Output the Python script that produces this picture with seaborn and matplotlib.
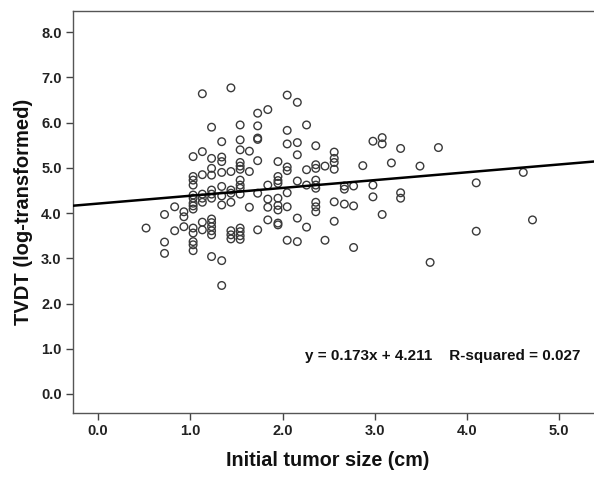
import matplotlib
matplotlib.use("Agg")
import matplotlib.pyplot as plt
from matplotlib.ticker import FormatStrFormatter, FixedLocator
import seaborn as sns
import pandas as pd
import numpy as np

# ---- data ----
col_x = [0.52, 0.72, 0.83, 0.93, 1.03, 1.13, 1.23, 1.34, 1.44, 1.54, 1.64, 1.73,
         1.84, 1.95, 2.05, 2.16, 2.26, 2.36, 2.46, 2.56, 2.67, 2.77, 2.87, 2.98,
         3.08, 3.18, 3.28, 3.49, 3.60, 3.69, 4.10, 4.61, 4.71]
col_y = [
    [3.67],
    [3.97, 3.36, 3.11],
    [4.14, 3.61],
    [4.03, 3.92, 3.70],
    [5.25, 4.81, 4.73, 4.62, 4.40, 4.33, 4.22, 4.16, 4.09, 3.67, 3.56, 3.37, 3.30, 3.17],
    [6.64, 5.36, 4.85, 4.42, 4.33, 4.24, 3.80, 3.63],
    [5.90, 5.21, 4.99, 4.84, 4.51, 4.42, 4.33, 3.87, 3.79, 3.70, 3.61, 3.52, 3.04],
    [5.58, 5.24, 5.14, 4.90, 4.59, 4.38, 4.18, 2.95, 2.40],
    [6.77, 4.92, 4.51, 4.44, 4.24, 3.61, 3.52, 3.43],
    [5.95, 5.62, 5.40, 5.12, 5.04, 4.97, 4.73, 4.62, 4.55, 4.42, 3.67, 3.59, 3.50, 3.42],
    [5.37, 4.92, 4.13],
    [6.21, 5.93, 5.66, 5.63, 5.16, 4.44, 3.63],
    [6.29, 4.62, 4.31, 4.13, 3.85],
    [5.14, 4.81, 4.72, 4.66, 4.33, 4.17, 4.07, 3.78, 3.74],
    [6.61, 5.83, 5.53, 5.02, 4.94, 4.45, 4.14, 3.40],
    [6.45, 5.56, 5.29, 4.71, 3.89, 3.37],
    [5.95, 4.96, 4.62, 3.69],
    [5.49, 5.07, 4.99, 4.73, 4.62, 4.55, 4.24, 4.14, 4.03],
    [5.04, 3.40],
    [5.35, 5.21, 5.12, 4.97, 4.25, 3.82],
    [4.60, 4.53, 4.20],
    [4.60, 4.16, 3.24],
    [5.05],
    [5.59, 4.62, 4.36],
    [5.67, 5.53, 3.97],
    [5.11],
    [5.43, 4.45, 4.33],
    [5.04],
    [2.91],
    [5.45],
    [4.67, 3.60],
    [4.90],
    [3.85],
]
slope = 0.173
intercept = 4.211
annotation = "y = 0.173x + 4.211    R-squared = 0.027"
x_ticks = [0.0, 1.0, 2.0, 3.0, 4.0, 5.0]
y_ticks = [0.0, 1.0, 2.0, 3.0, 4.0, 5.0, 6.0, 7.0, 8.0]
x_label = "Initial tumor size (cm)"
y_label = "TVDT (log-transformed)"

rows = [(cx, v) for cx, ys in zip(col_x, col_y) for v in ys]
df = pd.DataFrame(rows, columns=["size", "tvdt"])

sns.set_theme(style="white")
plt.rcParams["font.family"] = ["Liberation Sans", "DejaVu Sans"]
plt.rcParams["font.weight"] = "bold"

fig = plt.figure(figsize=(5.94, 4.78), dpi=100)
ax = fig.add_axes([0.1225, 0.136, 0.8775, 0.841])

sns.scatterplot(data=df, x="size", y="tvdt", ax=ax, marker="o", s=30,
                facecolor="none", edgecolor="#3a3a3a", linewidth=1.0, zorder=3)

xlim = (-0.275, 5.377)
ylim = (-0.42, 8.47)
ax.set_xlim(*xlim)
ax.set_ylim(*ylim)

xs = np.array(xlim)
ax.plot(xs, slope * xs + intercept, color="black", lw=1.8, zorder=4)

ax.text(2.24, 0.84, annotation, fontsize=11, fontweight="bold",
        color="#111111", va="center", ha="left")

ax.xaxis.set_major_locator(FixedLocator(x_ticks))
ax.yaxis.set_major_locator(FixedLocator(y_ticks))
ax.xaxis.set_major_formatter(FormatStrFormatter("%.1f"))
ax.yaxis.set_major_formatter(FormatStrFormatter("%.1f"))
ax.tick_params(axis="both", direction="out", length=5, width=1.0,
               color="#444444", labelsize=10.5, labelcolor="#222222",
               bottom=True, left=True, pad=3)
for lab in ax.get_xticklabels() + ax.get_yticklabels():
    lab.set_fontweight("bold")

ax.set_xlabel(x_label, fontsize=14.2, fontweight="bold", color="#111111")
ax.xaxis.set_label_coords(0.49, -0.095)
ax.set_ylabel(y_label, fontsize=14.5, fontweight="bold", color="#111111", labelpad=6)

for side in ["left", "bottom", "top"]:
    ax.spines[side].set_visible(True)
    ax.spines[side].set_color("#555555")
    ax.spines[side].set_linewidth(1.0)
ax.spines["right"].set_visible(False)
ax.grid(False)

fig.savefig("out.png", dpi=100)
